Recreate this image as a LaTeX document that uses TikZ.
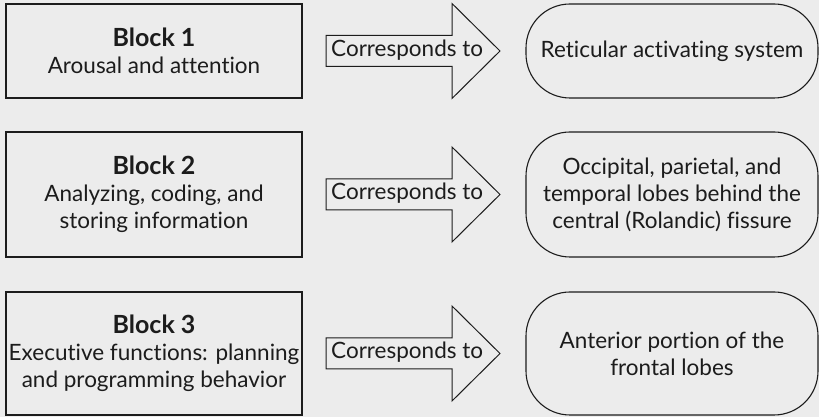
\documentclass[tikz,border=0pt]{standalone}
\usepackage{fontspec}
\setmainfont{Lato}[Ligatures={NoCommon}]
\definecolor{bg}{RGB}{236,236,236}
\definecolor{ln}{RGB}{28,28,28}
\newcommand{\blkhead}[1]{{\fontsize{25}{27}\selectfont\bfseries #1}}
\begin{document}
\begin{tikzpicture}[x=1pt,y=1pt,
  txt/.style={text=ln, align=center, font=\fontsize{22.5}{27}\selectfont},
  blockbox/.style={txt, draw=ln, line width=1.1pt, fill=bg, minimum width=296pt, inner sep=0pt},
  areabox/.style={txt, draw=ln, line width=1.1pt, fill=bg, minimum width=292pt, inner sep=0pt, rounded corners=44pt},
  arrowshape/.style={draw=ln, line width=1pt, fill=bg, line join=miter},
  corrtext/.style={txt, inner sep=0pt, anchor=west}
]
\fill[bg] (0,0) rectangle (819,417);
\useasboundingbox (0,0) rectangle (819,417);

% left blocks
\node[blockbox, minimum height=94pt] (b1) at (154,366)
  {\blkhead{Block 1}\\Arousal and attention};
\node[blockbox, minimum height=125pt] (b2) at (154,222.5)
  {\blkhead{Block 2}\\Analyzing, coding, and\\storing information};
\node[blockbox, minimum height=123pt] (b3) at (154,63.5)
  {\blkhead{Block 3}\\Executive functions: planning\\and programming behavior};

% right areas
\node[areabox, minimum height=94pt] (r1) at (672,366)
  {Reticular activating system};
\node[areabox, minimum height=125pt] (r2) at (672,222.5)
  {Occipital, parietal, and\\temporal lobes behind the\\central (Rolandic) fissure};
\node[areabox, minimum height=123pt] (r3) at (672,63.5)
  {Anterior portion of the\\frontal lobes};

% block arrows
\foreach \i/\y in {1/366,2/222.5,3/63.5}{
  \coordinate (s\i) at (326,\y);
  \draw[arrowshape] (s\i) ++(0,15.5) -- ++(126,0) -- ++(0,32) -- ++(48,-47.5)
    -- ++(-48,-47.5) -- ++(0,32) -- ++(-126,0) -- cycle;
  \node[corrtext] (t\i) at ([xshift=5pt,yshift=1pt]s\i) {Corresponds to};
}
\end{tikzpicture}
\end{document}
